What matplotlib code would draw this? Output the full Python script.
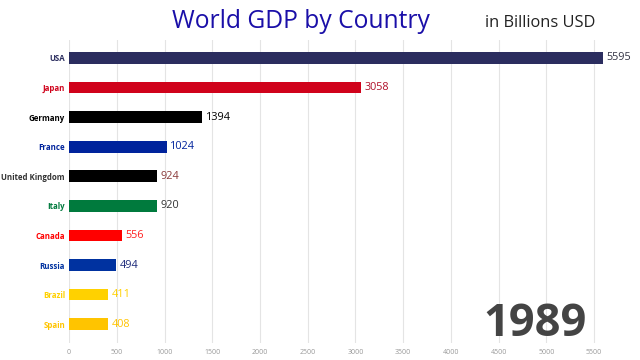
import matplotlib.pyplot as plt
import numpy as np

countries = ['USA', 'Japan', 'Germany', 'France', 'United Kingdom', 'Italy',
             'Canada', 'Russia', 'Brazil', 'Spain']
gdp = [5595, 3058, 1394, 1024, 924, 920, 556, 494, 411, 408]
bar_colors = ['#2b2d5f', '#d0021b', '#000000', '#00239c', '#000000', '#007a3d',
              '#ff0000', '#0032a0', '#ffd100', '#ffc400']
name_colors = ['#2b2d5f', '#d0021b', '#000000', '#00239c', '#333333', '#007a3d',
               '#ff0000', '#0032a0', '#ffd100', '#ffc400']
value_colors = ['#333344', '#b0102a', '#000000', '#00239c', '#8b3a3a', '#333333',
                '#ff2020', '#1c2a7a', '#ffd100', '#ffc400']
year = '1989'
ticks = np.arange(0, 6000, 500)

plt.rcParams['font.family'] = ['Open Sans', 'DejaVu Sans']

fig = plt.figure(figsize=(6.4, 3.6), dpi=100)
ax = fig.add_axes([0.108, 0.047, 0.892, 0.842])
y = np.arange(len(countries))
ax.barh(y, gdp, height=0.4, color=bar_colors, zorder=2)
ax.set_ylim(9.64, -0.61)
ax.set_xlim(0, 5981)
ax.set_xticks(ticks)
ax.set_xticklabels([str(t) for t in ticks], fontsize=5, color='#999999')
ax.tick_params(axis='x', length=0, pad=4)
ax.set_yticks(y)
ax.set_yticklabels(countries, fontsize=5.7, fontweight='bold')
for lab, c in zip(ax.get_yticklabels(), name_colors):
    lab.set_color(c)
ax.tick_params(axis='y', length=0, pad=3)
ax.grid(axis='x', color='#e4e4e4', linewidth=0.8, zorder=0)
for s in ax.spines.values():
    s.set_visible(False)

for i, v in enumerate(gdp):
    ax.text(v + 35, i, str(v), va='center', ha='left', fontsize=7.8,
            color=value_colors[i])

fig.text(0.268, 0.94, 'World GDP by Country', fontsize=17.7, color='#1a0fa8',
         va='center', ha='left')
fig.text(0.758, 0.935, 'in Billions USD', fontsize=11.8, color='#222222',
         va='center', ha='left')
fig.text(0.755, 0.098, year, fontsize=32.5, fontweight='bold', color='#444444',
         va='center', ha='left')

fig.savefig('out.png', dpi=100, facecolor='white')
